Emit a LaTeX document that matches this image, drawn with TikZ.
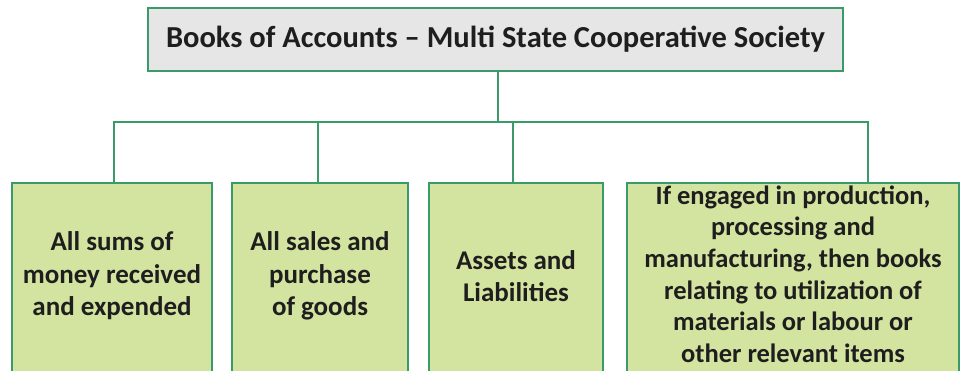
\documentclass[tikz,border=0pt]{standalone}
\usepackage{fontspec}
\setmainfont{Carlito}
\definecolor{edgegreen}{HTML}{3A9A6A}
\definecolor{topfill}{HTML}{E6E6E6}
\definecolor{boxfill}{HTML}{D3E3A0}
\definecolor{txt}{HTML}{1E1E1E}
\begin{document}
\begin{tikzpicture}[x=1pt,y=-1pt,
  topbox/.style={draw=edgegreen, line width=1.8pt, fill=topfill, text=txt,
    minimum width=695pt, minimum height=63pt, inner sep=0pt,
    font=\fontsize{30.5}{34}\selectfont\bfseries},
  leafbox/.style={draw=edgegreen, line width=1.8pt, fill=boxfill, text=txt,
    minimum height=200pt, inner sep=0pt, align=center,
    font=\fontsize{27}{32.4}\selectfont\bfseries},
  leaftext/.style={text=txt, inner sep=0pt, align=center,
    font=\fontsize{27}{32.4}\selectfont\bfseries},
  link/.style={draw=edgegreen, line width=1.8pt}]
\useasboundingbox (0,0) rectangle (961,370);
\node[topbox] (top) at (495.5,39.5) {Books of Accounts -- Multi State Cooperative Society};
\node[leafbox, minimum width=200pt] (b1) at (112,283) {};
\node[leafbox, minimum width=176pt] (b2) at (320,283) {};
\node[leafbox, minimum width=174pt] (b3) at (516,283) {};
\node[leafbox, minimum width=332pt] (b4) at (793,283) {};
\node[leaftext] (t1) at (112,276) {All sums of\\money received\\and expended};
\node[leaftext] (t2) at (320,276) {All sales and\\purchase\\of goods};
\node[leaftext] (t3) at (516,276) {Assets and\\Liabilities};
\node[leaftext, font=\fontsize{26.5}{31.6}\selectfont\bfseries] (t4) at (793,274) {If engaged in production,\\processing and\\manufacturing, then books\\relating to utilization of\\materials or labour or\\other relevant items};
\coordinate (bar) at (498,122);
\coordinate (j1) at (114,122);
\coordinate (j2) at (318,122);
\coordinate (j3) at (513,122);
\coordinate (j4) at (868,122);
\draw[link] (top.south -| bar) -- (bar);
\draw[link] (j1 |- b1.north) -- (j1) -- (j4) -- (j4 |- b4.north);
\draw[link] (j2) -- (j2 |- b2.north);
\draw[link] (j3) -- (j3 |- b3.north);
\end{tikzpicture}
\end{document}
